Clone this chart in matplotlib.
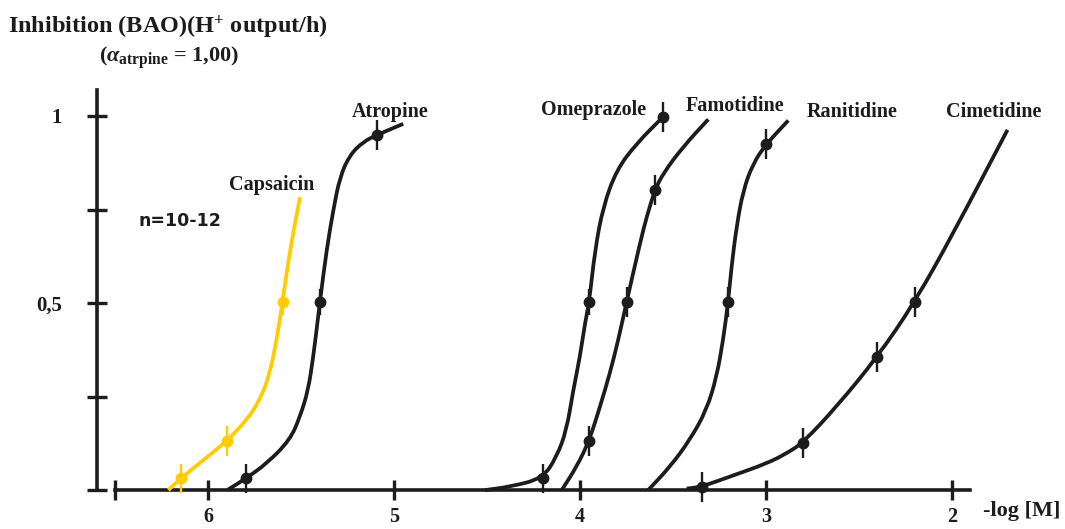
import numpy as np
import matplotlib.pyplot as plt
from matplotlib.path import Path
from matplotlib.patches import PathPatch

plt.rcParams['font.family'] = ['Liberation Serif', 'DejaVu Serif']
plt.rcParams['mathtext.fontset'] = 'custom'
plt.rcParams['mathtext.rm'] = 'Liberation Serif:bold'
plt.rcParams['mathtext.it'] = 'Liberation Serif:italic:bold'
plt.rcParams['mathtext.bf'] = 'Liberation Serif:bold'

INK = '#1c1c1c'
GOLD = '#ffcc00'

# traced dose-response curves, x = -log[M], y = inhibition
caps_x = [6.213, 6.147, 6.025, 5.896, 5.792, 5.720, 5.667, 5.631, 5.599, 5.559, 5.505]
caps_y = [0.0, 0.031, 0.080, 0.132, 0.187, 0.241, 0.312, 0.401, 0.503, 0.642, 0.783]

atro_x = [5.896, 5.796, 5.684, 5.559, 5.505, 5.461, 5.434, 5.416, 5.398, 5.362, 5.326,
          5.290, 5.237, 5.165, 5.093, 4.950]
atro_y = [0.0, 0.031, 0.071, 0.134, 0.196, 0.267, 0.356, 0.428, 0.503, 0.642, 0.749,
          0.838, 0.896, 0.931, 0.949, 0.979]

omep_x = [4.511, 4.376, 4.201, 4.125, 4.072, 4.036, 4.000, 3.973, 3.950, 3.919, 3.875,
          3.803, 3.695, 3.552]
omep_y = [0.0, 0.009, 0.031, 0.089, 0.160, 0.267, 0.356, 0.446, 0.503, 0.642, 0.758,
          0.856, 0.927, 0.998]

famo_x = [4.098, 4.018, 3.950, 3.892, 3.839, 3.794, 3.749, 3.677, 3.641, 3.597, 3.552,
          3.445, 3.310]
famo_y = [0.0, 0.062, 0.132, 0.223, 0.312, 0.401, 0.503, 0.660, 0.731, 0.802, 0.847,
          0.918, 0.991]

rani_x = [3.633, 3.516, 3.409, 3.319, 3.265, 3.230, 3.203, 3.185, 3.158, 3.122, 3.068,
          3.000, 2.880]
rani_y = [0.0, 0.062, 0.134, 0.214, 0.303, 0.401, 0.503, 0.597, 0.704, 0.802, 0.874,
          0.924, 0.988]

cime_x = [3.426, 3.346, 3.194, 2.996, 2.889, 2.800, 2.620, 2.402, 2.199, 1.993, 1.701]
cime_y = [0.004, 0.009, 0.036, 0.071, 0.098, 0.127, 0.223, 0.355, 0.503, 0.686, 0.963]

# measured points with error bars
caps_px, caps_py, caps_err = [6.147, 5.896, 5.599], [0.031, 0.132, 0.503], [0.038, 0.04, 0.035]
atro_px, atro_py, atro_err = [5.796, 5.398, 5.093], [0.031, 0.503, 0.949], [0.04, 0.035, 0.04]
omep_px, omep_py, omep_err = [4.201, 3.950, 3.552], [0.031, 0.503, 0.998], [0.04, 0.035, 0.04]
famo_px, famo_py, famo_err = [3.950, 3.749, 3.597], [0.132, 0.503, 0.802], [0.04, 0.04, 0.04]
rani_px, rani_py, rani_err = [3.203, 3.000], [0.503, 0.924], [0.04, 0.04]
cime_px, cime_py, cime_err = [3.346, 2.800, 2.402, 2.199], [0.009, 0.127, 0.355, 0.503], [0.04, 0.04, 0.04, 0.04]

xtick_pos = [6.5, 6, 5, 4, 3, 2]
xtick_lab = ['', '6', '5', '4', '3', '2']
ytick_pos = [0, 0.25, 0.5, 0.75, 1]
ytick_lab = ['', '', '0,5', '', '1']


def smooth_path(xs, ys):
    # quadratic bezier through midpoints so the traced line renders smooth
    pts = list(zip(xs, ys))
    verts = [pts[0]]
    codes = [Path.MOVETO]
    mids = [((a[0] + b[0]) / 2, (a[1] + b[1]) / 2) for a, b in zip(pts[:-1], pts[1:])]
    verts.append(mids[0])
    codes.append(Path.LINETO)
    for i in range(1, len(pts) - 1):
        verts += [pts[i], mids[i]]
        codes += [Path.CURVE3, Path.CURVE3]
    verts.append(pts[-1])
    codes.append(Path.LINETO)
    return Path(verts, codes)


fig = plt.figure(figsize=(10.65, 5.29), dpi=100)
ax = fig.add_axes([0, 0, 1, 1])
ax.patch.set_alpha(0)
ax.set_xlim(7.118, 1.392)
ax.set_ylim(-0.104, 1.310)

for s in ['top', 'right']:
    ax.spines[s].set_visible(False)
ax.spines['left'].set_position(('data', 6.597))
ax.spines['left'].set_bounds(0, 1.07)
ax.spines['bottom'].set_position(('data', 0))
ax.spines['bottom'].set_bounds(6.5, 1.903)
for s in ['left', 'bottom']:
    ax.spines[s].set_linewidth(2.6)
    ax.spines[s].set_color(INK)

ax.set_xticks(xtick_pos)
ax.set_xticklabels(xtick_lab)
ax.set_yticks(ytick_pos)
ax.set_yticklabels(ytick_lab)
ax.tick_params(axis='both', direction='inout', length=14, width=2.4, color=INK,
               labelsize=15, labelcolor=INK)
ax.tick_params(axis='x', pad=5, labelsize=14.5)
ax.tick_params(axis='y', pad=18)
for lab in ax.get_xticklabels() + ax.get_yticklabels():
    lab.set_fontweight('bold')

curves = [
    (caps_x, caps_y, caps_px, caps_py, caps_err, GOLD),
    (atro_x, atro_y, atro_px, atro_py, atro_err, INK),
    (omep_x, omep_y, omep_px, omep_py, omep_err, INK),
    (famo_x, famo_y, famo_px, famo_py, famo_err, INK),
    (rani_x, rani_y, rani_px, rani_py, rani_err, INK),
    (cime_x, cime_y, cime_px, cime_py, cime_err, INK),
]
for cx, cy, px, py, err, col in curves:
    ax.add_patch(PathPatch(smooth_path(cx, cy), facecolor='none', edgecolor=col,
                           lw=2.7, capstyle='butt', joinstyle='round', zorder=3))
    ax.errorbar(px, py, yerr=err, fmt='o', color=col, ms=7.5, elinewidth=1.7,
                capsize=0, zorder=4)

lbl = dict(fontsize=14.5, fontweight='bold', color=INK, ha='center', va='center')
ax.text(5.022, 1.011, 'Atropine', **lbl)
ax.text(5.656, 0.816, 'Capsaicin', **lbl)
ax.text(3.925, 1.016, 'Omeprazole', **lbl)
ax.text(3.167, 1.027, 'Famotidine', **lbl)
ax.text(2.538, 1.011, 'Ranitidine', **lbl)
ax.text(1.774, 1.011, 'Cimetidine', **lbl)
ax.text(6.151, 0.719, 'n=10-12', fontsize=12.5, fontweight='bold', color=INK,
        ha='center', va='center', family='DejaVu Sans')
ax.text(1.624, -0.056, '-log [M]', fontsize=16, fontweight='bold', color=INK,
        ha='center', va='center')

fig.text(8 / 1065, 1 - 27 / 529, 'Inhibition (BAO)(H$^{+}$ output/h)', fontsize=17.5,
         fontweight='bold', color=INK, ha='left', va='center')
fig.text(169 / 1065, 1 - 58 / 529, r'($\alpha_{\mathrm{atrpine}}$ = 1,00)', fontsize=16,
         fontweight='bold', color=INK, ha='center', va='center')

fig.savefig('out.png', dpi=100)
